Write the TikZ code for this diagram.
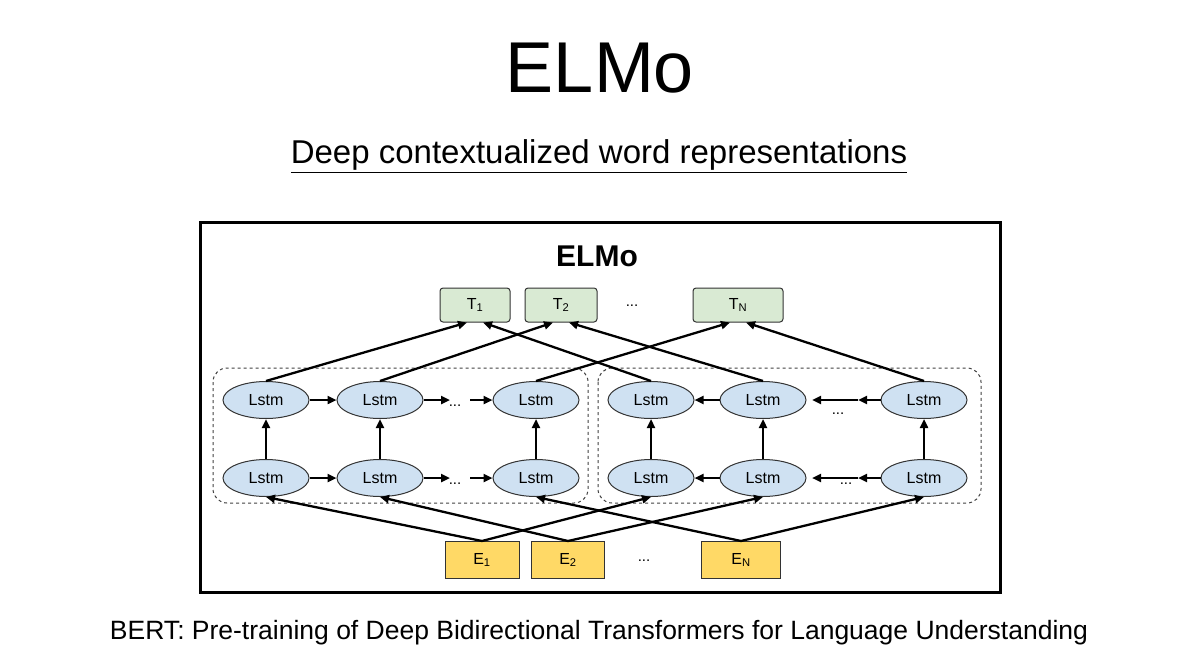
\documentclass[tikz,border=0pt]{standalone}
\usepackage{fontspec}
\setmainfont{Liberation Sans}
\usetikzlibrary{shapes.geometric,arrows.meta}
\begin{document}
\begin{tikzpicture}[x=1pt,y=-1pt,
  lstm/.style={ellipse,draw=black!80,line width=1pt,fill={rgb,255:red,207;green,225;blue,242},minimum width=86pt,minimum height=37pt,inner sep=0pt,font=\fontsize{16}{16}\selectfont},
  tbox/.style={rectangle,rounded corners=3pt,draw=black!80,line width=1pt,fill={rgb,255:red,217;green,234;blue,211},minimum height=34pt,inner sep=0pt,font=\fontsize{16}{16}\selectfont},
  ebox/.style={rectangle,draw=black!80,line width=1pt,fill={rgb,255:red,255;green,217;blue,102},minimum height=37pt,inner sep=0pt,font=\fontsize{16}{16}\selectfont},
  arr/.style={-{Triangle[length=9pt,width=8pt]},line width=2.3pt},
  dots/.style={font=\fontsize{15}{15}\selectfont}]
\useasboundingbox (0,0) rectangle (1200,672);
\node at (600,68) {\fontsize{72}{72}\selectfont ELMo};
\node at (599,156) {\fontsize{33}{33}\selectfont \underline{Deep contextualized word representations}};
\node at (599,633) {\fontsize{26.5}{26.5}\selectfont BERT: Pre-training of Deep Bidirectional Transformers for Language Understanding};
\draw[line width=3pt] (200,222) rectangle (1000,592);
\node at (597,256) {\fontsize{30}{30}\selectfont\bfseries ELMo};
% dashed boxes
\draw[dashed,line width=1pt,black!75,rounded corners=14pt] (213,368) rectangle (588,503);
\draw[dashed,line width=1pt,black!75,rounded corners=14pt] (598,368) rectangle (981,503);
% T boxes
\node[tbox,minimum width=70pt] (T1) at (475,305) {T\textsubscript{1}};
\node[tbox,minimum width=72pt] (T2) at (561,305) {T\textsubscript{2}};
\node[tbox,minimum width=90pt] (TN) at (738,305) {T\textsubscript{N}};
\node[dots] (td) at (632,306) {...};
% E boxes
\node[ebox,minimum width=74pt] (E1) at (482,560) {E\textsubscript{1}};
\node[ebox,minimum width=73pt] (E2) at (568,560) {E\textsubscript{2}};
\node[ebox,minimum width=79pt] (EN) at (741,560) {E\textsubscript{N}};
\node[dots] (ed) at (644,561) {...};
% Lstm nodes
\foreach \n/\x in {a/266,b/380,c/536,d/651,e/763,f/924}{
  \node[lstm] (u\n) at (\x,400) {Lstm};
  \node[lstm] (l\n) at (\x,478) {Lstm};
  \draw[arr] (l\n) -- (u\n);
}
\foreach \r/\y in {u/400,l/478}{
  \draw[arr] (\r a) -- (\r b);
  \coordinate (\r p) at (450,\y);
  \draw[arr] (\r b.east) -- (\r p);
  \coordinate (\r s) at (470,\y);
  \draw[arr] (\r s) -- (\r c.west);
  \node[dots] at (455,\y+6) {...};
  \draw[arr] (\r e) -- (\r d);
  \coordinate (\r m) at (812,\y); \coordinate (\r n) at (858,\y);
  \draw[arr] (\r n) -- (\r m);
  \draw[arr] (\r f.west) -- (\r n);
}
\node[dots] at (838,414) {...};
\node[dots] at (846,484) {...};
% up to T
\draw[arr] (ua.north) -- ([xshift=-8pt]T1.south);
\draw[arr] (ud.north) -- ([xshift=8pt]T1.south);
\draw[arr] (ub.north) -- ([xshift=-8pt]T2.south);
\draw[arr] (ue.north) -- ([xshift=8pt]T2.south);
\draw[arr] (uc.north) -- ([xshift=-8pt]TN.south);
\draw[arr] (uf.north) -- ([xshift=8pt]TN.south);
% from E
\draw[arr] (E1.north) -- (la.south);
\draw[arr] (E1.north) -- (ld.south);
\draw[arr] (E2.north) -- (lb.south);
\draw[arr] (E2.north) -- (le.south);
\draw[arr] (EN.north) -- (lc.south);
\draw[arr] (EN.north) -- (lf.south);
\end{tikzpicture}
\end{document}
